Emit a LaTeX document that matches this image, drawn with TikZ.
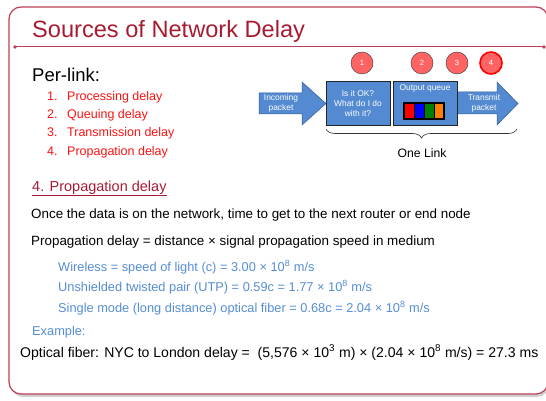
\documentclass[tikz,border=0pt]{standalone}
\usepackage{fontspec}
\setmainfont{Liberation Sans}
\usetikzlibrary{calc,decorations.pathreplacing,positioning}
\definecolor{framered}{RGB}{190,62,86}
\definecolor{titlered}{RGB}{168,28,50}
\definecolor{listred}{RGB}{250,20,20}
\definecolor{textblue}{RGB}{86,142,214}
\definecolor{boxblue}{RGB}{84,138,210}
\definecolor{edgeblue}{RGB}{52,92,150}
\definecolor{dotred}{RGB}{255,100,100}

\tikzset{
  txt/.style={anchor=base west, inner sep=0pt, font=\fontsize{13.4}{15}\selectfont},
  subtxt/.style={txt, text=textblue, font=\fontsize{12.8}{14}\selectfont},
  itemtxt/.style={txt, text=listred, font=\fontsize{12.5}{14}\selectfont},
  small/.style={inner sep=0pt, align=center, text=white, font=\fontsize{8.4}{10}\selectfont},
  dot/.style={circle, draw=black!80, fill=dotred, minimum size=22pt, inner sep=0pt, text=white, font=\fontsize{7.5}{8}\selectfont},
  arrowbody/.style={fill=boxblue, draw=edgeblue, line width=0.5pt}
}

\begin{document}
\begin{tikzpicture}[x=1pt,y=-1pt]
			%%%%% START %%%%%
			\useasboundingbox (0,0) rectangle (546,401);
			\clip (0,0) rectangle (546,401);
			
			% frame and title
			\fill[black!18, rounded corners=12pt] (11,10) rectangle (549,397);
			\draw[framered, line width=1.2pt, fill=white, rounded corners=12pt] (9,7) rectangle (548,394);
			\draw[framered, line width=1pt] (15,47) -- (544,47);
			\fill[framered] (15,47) circle (1.8pt);
			\fill[framered] (544,47) circle (1.8pt);
			\node[txt, text=titlered, font=\fontsize{23.6}{26}\selectfont] (title) at (32,38) {Sources of Network Delay};
			
			% per-link list
			\node[txt, font=\fontsize{18.5}{20}\selectfont] (perlink) at (32,82) {Per-link:};
			\foreach \n/\y/\t in {1/101/Processing delay, 2/119/Queuing delay, 3/137/Transmission delay, 4/155/Propagation delay}{
				\node[itemtxt] (num\n) at (47,\y) {\n.};
				\node[itemtxt] (item\n) at (67,\y) {\t};
			}
			
			% link diagram
			\draw[arrowbody] (259,93) -- (302,93) -- (302,82) -- (326,103.5) -- (302,125) -- (302,114) -- (259,114) -- cycle;
			\node[small] (incoming) at (281,103.5) {Incoming\\packet};
			\draw[arrowbody] (450,92) -- (497,92) -- (497,82) -- (518,103.5) -- (497,125) -- (497,114) -- (450,114) -- cycle;
			\node[small] (transmit) at (484,103.5) {Transmit\\packet};
			\draw[fill=boxblue, draw=black!85, line width=0.7pt] (326,81) rectangle (390,125);
			\node[small] (check) at (358,103) {Is it OK?\\What do I do\\with it?};
			\draw[fill=boxblue, draw=black!85, line width=0.7pt] (393,81) rectangle (457,125);
			\node[small] (queue) at (425,88) {Output queue};
			\foreach \c [count=\i] in {red, blue, green!50!black, orange}{
				\draw[fill=\c, draw=black, line width=0.5pt] ({404+(\i-1)*10},103) rectangle ++(10,16);
			}
			\draw[black, line width=1.3pt] (404,103) rectangle (444,119);
			\node[dot] (c1) at (362,63) {1};
			\node[dot] (c2) at (422,63) {2};
			\node[dot] (c3) at (457,63) {3};
			\node[dot, draw=red, line width=1.6pt] (c4) at (491,63) {4};
			\coordinate (bl) at (326,129);
			\coordinate (br) at (517,129);
			\draw[black!80, line width=0.6pt, decorate, decoration={brace, mirror, amplitude=9pt}] (bl) -- (br);
			\node[inner sep=0pt, font=\fontsize{12.2}{14}\selectfont] (onelink) at (422,153) {One Link};
			
			% propagation delay text
			\node[txt, text=titlered, font=\fontsize{14.5}{16}\selectfont] (heading) at (32,191) {\underline{4. Propagation delay}};
			\node[txt] (once) at (31,218) {Once the data is on the network, time to get to the next router or end node};
			\node[txt] (formula) at (31,245) {Propagation delay = distance × signal propagation speed in medium};
			\node[subtxt] (wireless) at (58,271) {Wireless = speed of light (c) = 3.00 × 10\textsuperscript{8} m/s};
			\node[subtxt] (utp) at (58,291) {Unshielded twisted pair (UTP) = 0.59c = 1.77 × 10\textsuperscript{8} m/s};
			\node[subtxt] (fiber) at (58,312) {Single mode (long distance) optical fiber = 0.68c = 2.04 × 10\textsuperscript{8} m/s};
			\node[subtxt] (example) at (32,335) {Example:};
			\node[txt, font=\fontsize{14.05}{16}\selectfont] (nyc) at (20,357) {Optical fiber: NYC to London delay = ~(5,576 × 10\textsuperscript{3} m) × (2.04 × 10\textsuperscript{8} m/s) = 27.3 ms};
			%%%%% END %%%%%
\end{tikzpicture}
\end{document}
